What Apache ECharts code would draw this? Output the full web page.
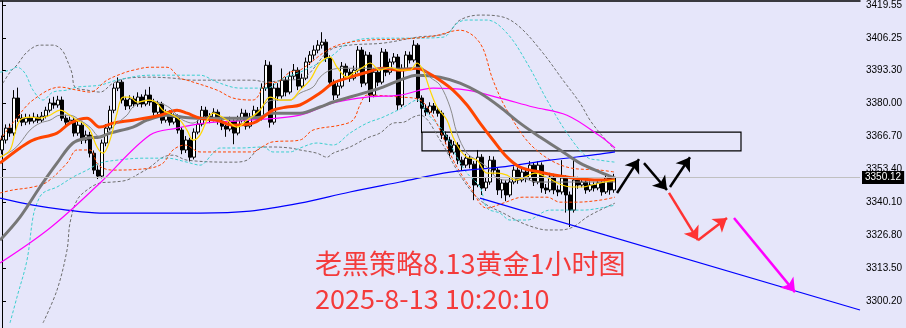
<!DOCTYPE html>
<html>
<head>
<meta charset="utf-8">
<script src="https://cdn.jsdelivr.net/npm/echarts@6/dist/echarts.min.js"></script>
<style>
html,body{margin:0;padding:0;background:#E6E6FA;}
#c{width:906px;height:328px;}
</style>
</head>
<body>
<div id="c"></div>
<script>
// ---------- DATA ----------
const tickLabels = [3419.55, 3406.25, 3393.30, 3380.00, 3366.70, 3353.40, 3340.10, 3326.80, 3313.50, 3300.20];
const lastPrice = 3350.12;
const titleLine1 = '老黑策略8.13黄金1小时图';
const titleLine2 = '2025-8-13 10:20:10';

const openArr = [3361.2,3365.2,3370.0,3368.0,3382.1,3374.0,3372.4,3374.0,3372.8,3374.4,
3373.2,3374.8,3377.2,3380.1,3379.3,3381.3,3374.0,3372.4,3373.2,3368.0,
3371.2,3365.2,3367.2,3359.9,3353.1,3350.7,3364.0,3370.0,3377.2,3386.1,
3388.5,3381.3,3378.9,3381.7,3379.7,3382.5,3379.7,3383.3,3380.5,3376.4,
3379.7,3373.2,3376.0,3372.4,3374.4,3369.2,3361.2,3365.2,3358.3,3368.4,
3371.6,3377.2,3374.8,3373.6,3376.4,3372.8,3370.8,3369.6,3372.8,3368.0,
3373.2,3376.0,3370.8,3374.4,3377.2,3374.0,3386.1,3395.3,3372.4,3386.1,
3382.9,3389.3,3384.5,3390.9,3393.3,3386.9,3390.1,3396.6,3399.4,3401.4,
3403.4,3404.6,3398.2,3388.5,3383.3,3386.9,3394.9,3392.5,3390.1,3393.3,
3401.4,3388.1,3399.4,3383.3,3392.5,3388.5,3400.6,3392.5,3396.6,3398.6,
3379.3,3394.1,3399.4,3397.4,3403.4,3382.1,3378.0,3376.4,3378.9,3377.2,
3376.0,3367.2,3365.2,3360.3,3363.2,3357.1,3355.1,3357.9,3355.5,3347.1,
3358.3,3345.9,3348.3,3357.1,3353.1,3345.1,3347.9,3343.1,3348.3,3353.1,
3349.1,3352.3,3349.9,3355.1,3348.3,3355.1,3345.9,3345.1,3350.3,3345.1,
3344.3,3349.9,3343.1,3337.0,3349.1,3347.1,3348.3,3345.1,3347.1,3345.9,
3347.9,3344.3,3349.9,3345.1];
const closeArr = [3365.2,3370.0,3368.0,3382.1,3374.0,3372.4,3374.0,3372.8,3374.4,3373.2,
3374.8,3377.2,3380.1,3379.3,3381.3,3374.0,3372.4,3373.2,3368.0,3371.2,
3365.2,3367.2,3359.9,3353.1,3350.7,3364.0,3370.0,3377.2,3386.1,3388.5,
3381.3,3378.9,3381.7,3379.7,3382.5,3379.7,3383.3,3380.5,3376.4,3379.7,
3373.2,3376.0,3372.4,3374.4,3369.2,3361.2,3365.2,3358.3,3368.4,3371.6,
3377.2,3374.8,3373.6,3376.4,3372.8,3370.8,3369.6,3372.8,3368.0,3373.2,
3376.0,3370.8,3374.4,3377.2,3374.0,3386.1,3395.3,3372.4,3386.1,3382.9,
3389.3,3384.5,3390.9,3393.3,3386.9,3390.1,3396.6,3399.4,3401.4,3403.4,
3404.6,3398.2,3388.5,3383.3,3386.9,3394.9,3392.5,3390.1,3393.3,3401.4,
3388.1,3399.4,3383.3,3392.5,3388.5,3400.6,3392.5,3396.6,3398.6,3379.3,
3394.1,3399.4,3397.4,3403.4,3382.1,3378.0,3376.4,3378.9,3377.2,3376.0,
3367.2,3365.2,3360.3,3363.2,3357.1,3355.1,3357.9,3355.5,3347.1,3358.3,
3345.9,3348.3,3357.1,3353.1,3345.1,3347.9,3343.1,3348.3,3353.1,3349.1,
3352.3,3349.9,3355.1,3348.3,3355.1,3345.9,3345.1,3350.3,3345.1,3344.3,
3349.9,3343.1,3337.0,3349.1,3347.1,3348.3,3345.1,3347.1,3345.9,3347.9,
3344.3,3349.9,3345.1,3350.12];
const lowArr = [3359.5,3363.8,3366.5,3366.9,3372.5,3370.8,3371.2,3371.5,3371.9,3372.0,
3372.1,3373.9,3376.3,3377.8,3378.2,3372.9,3371.0,3371.3,3366.6,3366.9,
3363.6,3363.9,3358.2,3351.5,3349.5,3349.8,3362.7,3369.1,3376.0,3384.9,
3379.9,3377.3,3377.6,3378.4,3378.6,3378.3,3378.8,3379.0,3375.0,3375.5,
3371.8,3372.2,3371.0,3371.5,3367.8,3359.5,3360.0,3356.6,3357.4,3367.5,
3370.7,3373.3,3372.0,3372.7,3371.4,3369.2,3366.5,3368.7,3363.5,3367.1,
3372.3,3369.4,3369.9,3373.5,3372.6,3373.1,3385.0,3370.2,3371.4,3381.1,
3381.9,3382.8,3383.6,3389.7,3385.3,3385.8,3389.3,3395.4,3397.6,3400.1,
3402.0,3396.6,3386.9,3381.3,3382.1,3386.0,3390.9,3388.6,3389.2,3392.4,
3386.5,3387.2,3380.5,3382.4,3386.9,3387.6,3390.9,3391.5,3395.6,3377.2,
3378.4,3393.3,3396.0,3396.5,3380.5,3368.0,3374.9,3375.5,3375.8,3374.6,
3365.6,3363.5,3358.6,3359.4,3355.5,3352.9,3354.0,3353.8,3341.0,3346.2,
3343.1,3344.7,3347.2,3351.4,3343.1,3341.8,3340.6,3342.2,3347.4,3347.6,
3348.2,3348.2,3349.0,3346.7,3347.4,3344.0,3343.5,3344.2,3343.4,3342.6,
3343.3,3336.0,3330.2,3336.0,3345.6,3346.2,3343.6,3344.3,3344.5,3345.0,
3342.8,3343.5,3343.2,3344.0];
const highArr = [3367.0,3371.5,3371.8,3385.3,3386.3,3375.6,3375.8,3375.5,3376.2,3375.6,
3376.5,3378.6,3381.9,3382.6,3383.0,3382.7,3375.4,3374.6,3374.3,3372.8,
3372.6,3369.0,3368.5,3361.0,3355.0,3365.4,3371.6,3379.0,3388.0,3390.4,
3389.5,3382.6,3383.2,3383.0,3384.4,3383.6,3385.5,3386.6,3381.8,3381.0,
3380.6,3377.5,3377.2,3375.9,3375.5,3370.3,3366.8,3366.1,3369.9,3373.2,
3378.9,3378.6,3376.0,3378.0,3377.5,3373.9,3372.0,3374.6,3373.9,3375.0,
3377.8,3377.4,3376.1,3379.0,3378.5,3388.0,3397.4,3396.8,3388.0,3388.1,
3394.0,3390.6,3392.8,3395.8,3394.5,3391.9,3398.4,3401.0,3403.3,3405.4,
3408.6,3405.8,3399.3,3389.6,3388.3,3396.6,3396.0,3393.8,3395.1,3403.0,
3402.6,3400.9,3400.6,3394.2,3393.7,3402.2,3401.8,3398.0,3400.2,3399.8,
3395.7,3401.0,3400.8,3405.4,3404.2,3383.2,3379.6,3380.4,3380.1,3378.5,
3377.1,3368.6,3366.5,3364.8,3364.3,3358.5,3359.6,3359.0,3356.7,3361.2,
3359.5,3350.0,3358.8,3358.6,3354.2,3349.5,3349.0,3350.2,3354.6,3354.2,
3353.9,3353.5,3356.7,3356.3,3356.6,3356.2,3347.5,3352.0,3351.6,3346.9,
3357.1,3351.0,3344.5,3358.3,3350.4,3349.8,3349.5,3348.6,3348.4,3349.3,
3349.0,3351.4,3351.0,3351.6];

// moving averages / bands: [bar index, price]
const maOrange = [[-0.5,3355.9],[4.5,3362.0],[7.75,3365.2],[13.75,3368.0],[17,3372.0],[21.25,3374.0],[24.5,3370.4],[27.75,3372.0],[32.75,3373.2],[39.5,3375.2],[43.75,3377.2],[46.25,3376.0],[49.5,3374.0],[53.75,3373.2],[57.75,3371.2],[62.75,3372.0],[65.25,3374.4],[67.75,3377.2],[71.25,3378.5],[74.5,3379.3],[79.5,3384.1],[82.75,3388.1],[87,3390.5],[91.25,3392.5],[95.25,3394.1],[99.5,3393.3],[103.75,3394.1],[106.25,3392.5],[109.5,3389.3],[112.75,3385.3],[116.25,3379.3],[119.5,3372.0],[122.75,3365.2],[126.25,3358.3],[129.5,3354.3],[134.5,3352.3],[141.25,3350.3],[149.5,3349.1],[153.25,3349.1]];
const maGreyThick = [[-0.5,3324.9],[4.5,3334.2],[9.5,3346.3],[13.75,3355.9],[17.75,3364.0],[21.25,3366.0],[24.5,3366.4],[27,3368.0],[32.75,3370.4],[36.25,3373.2],[41.25,3375.2],[45.25,3374.4],[49.5,3374.0],[57.75,3374.0],[64.5,3374.4],[67,3376.0],[74.5,3376.0],[79.5,3378.5],[82.75,3380.5],[87,3382.5],[91.25,3384.5],[95.25,3386.5],[99.5,3389.3],[103.75,3391.3],[109.5,3390.5],[114.5,3388.1],[119.5,3384.1],[124.5,3378.5],[129.5,3372.0],[134.5,3366.4],[139.5,3361.2],[144.5,3355.9],[149.5,3352.3],[153.25,3349.9]];
const maMagenta = [[-0.5,3315.7],[12,3329.8],[24.5,3347.9],[37,3367.2],[43.75,3370.0],[50.5,3372.0],[62,3373.2],[74.5,3375.2],[82.75,3380.1],[91.25,3382.5],[99.5,3383.3],[107.75,3386.1],[116.25,3385.3],[124.5,3382.1],[132.75,3378.5],[141.25,3375.2],[149.5,3366.8],[153.25,3362.0]];
const maBlue = [[-0.5,3341.8],[7.75,3339.0],[16.25,3337.0],[24.5,3335.8],[49.5,3335.8],[62,3336.6],[74.5,3339.8],[87,3344.3],[99.5,3348.3],[112,3352.3],[124.5,3354.3],[137,3357.1],[149.5,3359.5],[153.25,3360.4]];
const maGreyThin = [[-0.5,3358.3],[2.75,3361.2],[4.5,3364.0],[7,3369.2],[9.5,3372.0],[12,3373.2],[14.5,3375.2],[17,3375.2],[19.5,3373.2],[22,3370.4],[24.5,3366.4],[28.75,3372.0],[31.25,3375.2],[32.75,3378.5],[36.25,3381.3],[39.5,3380.1],[42,3378.1],[43.75,3375.2],[45.25,3373.2],[47.75,3372.0],[50.25,3374.0],[59.5,3373.2],[62.75,3374.4],[66.25,3380.5],[68.75,3381.3],[72,3381.3],[74.5,3384.1],[77.75,3386.5],[79.5,3390.5],[82,3393.3],[85.25,3394.1],[99.5,3394.1],[104.5,3394.5],[107,3390.5],[109.5,3387.3],[112,3378.5],[113.75,3368.0],[116.25,3359.9],[118.75,3357.1],[121.25,3354.3],[123.75,3349.9],[126.25,3349.1],[129.5,3349.9],[134,3348.3],[142.5,3348.3],[153.25,3348.3]];
const maYellow = [[-0.5,3358.3],[2,3361.2],[3.25,3368.0],[4.5,3373.2],[7,3374.4],[9.5,3374.0],[12,3375.2],[14.5,3377.2],[16.25,3376.0],[18.75,3373.2],[20.25,3372.0],[22,3369.2],[23.75,3362.4],[25.25,3359.9],[27,3365.2],[28.75,3376.0],[30.25,3382.5],[32,3382.5],[33.75,3380.5],[37,3381.3],[38.75,3380.1],[40.25,3377.2],[42.75,3375.2],[44.5,3373.2],[46.25,3369.2],[47.75,3365.2],[49.5,3367.2],[51.25,3373.2],[52.75,3376.0],[56.25,3373.2],[58.75,3370.4],[61.25,3373.2],[64.5,3377.2],[67,3382.5],[69.5,3381.3],[72,3381.3],[74.5,3385.3],[77,3389.3],[79.5,3396.2],[82,3398.6],[83.75,3394.5],[86.25,3390.5],[87.75,3392.1],[90.25,3394.5],[92,3396.2],[94.5,3393.3],[97,3394.5],[99.5,3393.3],[102,3393.3],[103.75,3396.2],[105.25,3393.3],[107,3385.3],[108.75,3378.5],[111.25,3373.2],[112.75,3366.4],[114.5,3361.2],[116.25,3358.3],[118.75,3357.1],[121.25,3351.9],[123.75,3351.9],[126.25,3351.1],[128.25,3349.1],[130.75,3350.3],[133.25,3351.9],[136.5,3349.9],[140,3347.1],[142.5,3346.3],[145,3346.3],[147.5,3347.1],[150.75,3348.3],[153.25,3349.1]];

const bbOrangeUp = [[-0.5,3365.2],[3.25,3373.2],[7.75,3381.3],[14.5,3386.5],[18.75,3385.3],[22,3384.5],[26.25,3389.3],[30.25,3392.1],[32.75,3393.3],[37,3394.5],[41.25,3394.5],[44.5,3390.1],[46.25,3389.3],[53.75,3385.3],[57.75,3382.1],[62.75,3381.3],[66.25,3388.1],[68.75,3388.5],[72,3392.5],[74.5,3393.3],[82.75,3402.6],[91.25,3405.4],[99.5,3405.8],[107.75,3407.0],[114.5,3409.4],[119.5,3404.2],[122.75,3389.3],[126.25,3377.2],[132.75,3362.4],[141.25,3354.3],[149.5,3353.1],[153.25,3352.3]];
const bbOrangeLo = [[-0.5,3343.9],[2.75,3345.1],[7.75,3346.3],[11.25,3348.3],[16.25,3355.9],[18.75,3361.2],[22,3361.2],[23.75,3355.9],[25.25,3353.9],[27.75,3353.1],[37,3353.9],[40.25,3355.9],[42.75,3361.2],[45.75,3363.2],[49.5,3360.4],[62.75,3360.4],[65,3362.4],[67.5,3364.4],[74.5,3365.2],[77.75,3369.2],[84.5,3371.2],[87.75,3373.2],[89.5,3379.3],[91.25,3383.3],[99.5,3382.5],[104.5,3381.3],[108.25,3373.2],[112,3359.9],[113.75,3354.3],[117,3346.3],[121.25,3337.8],[125.25,3339.8],[130.25,3342.2],[136.25,3342.2],[139.5,3340.2],[143.75,3340.2],[149.5,3341.0],[153.25,3342.2]];
const bbCyanUp = [[-0.5,3392.5],[2,3393.3],[3.75,3394.5],[5.75,3392.1],[7.75,3385.3],[10.25,3381.3],[12.75,3384.5],[16.25,3385.3],[18.75,3386.5],[24.5,3387.3],[28.75,3389.3],[37,3391.3],[49.5,3391.3],[53.75,3388.5],[59.5,3386.1],[66.25,3386.1],[70.25,3390.1],[74.5,3392.5],[82,3398.6],[87,3404.6],[93.75,3406.2],[102,3406.2],[110.25,3406.6],[113.75,3412.2],[116.25,3413.5],[121.25,3413.5],[126.25,3408.2],[131.25,3396.2],[136.25,3381.3],[141.25,3368.0],[146.25,3358.3],[149.5,3357.1],[153.25,3356.3]];
const bbCyanLo = [[2,3291.6],[3.75,3302.0],[6.25,3316.9],[7.75,3334.2],[8.75,3339.8],[10.25,3343.9],[13.75,3346.3],[17.75,3350.3],[21.25,3353.1],[24.5,3355.9],[28.75,3357.1],[35.25,3357.9],[41.25,3357.9],[46.25,3356.3],[49.5,3355.1],[52.75,3359.9],[54.5,3362.0],[59.5,3362.0],[65.25,3362.4],[67.75,3360.4],[72,3360.4],[74.5,3362.0],[78.75,3364.0],[82.75,3363.2],[87,3368.0],[91.25,3372.0],[95.25,3374.4],[100.5,3378.5],[103.75,3381.3],[106.25,3376.0],[109.5,3370.4],[111.25,3366.4],[113.75,3358.3],[116.25,3351.9],[119.5,3346.3],[121.25,3337.8],[124.5,3335.8],[127,3333.0],[131.25,3333.0],[137,3337.0],[145.25,3337.0],[149.5,3337.8],[153.25,3339.0]];
const bbGreyUp = [[0.25,3388.1],[2,3392.5],[3.75,3395.4],[6.25,3400.6],[9.5,3403.4],[12.75,3403.4],[15,3401.4],[16.25,3397.4],[17.5,3392.1],[18.25,3386.5],[21.25,3385.3],[24.5,3384.5],[27.75,3388.1],[31.25,3390.1],[37,3390.5],[42.75,3390.1],[47.75,3389.3],[62.75,3389.3],[66.25,3388.5],[70.25,3389.3],[74.5,3389.7],[82,3401.4],[87,3403.4],[95.25,3404.2],[103.75,3406.6],[111.25,3408.2],[114.5,3413.5],[119.5,3415.5],[125.25,3414.7],[129.5,3410.6],[135.25,3400.2],[140.25,3389.3],[144.5,3380.1],[147,3373.2],[149.5,3368.0],[153.25,3361.2]];
const bbGreyLo = [[10.25,3291.6],[13.75,3304.8],[16.25,3320.9],[17,3331.8],[18.75,3341.0],[21.25,3345.1],[24.5,3347.9],[27.75,3348.3],[31.25,3349.1],[34.5,3351.9],[37,3354.3],[40.25,3358.3],[42.75,3359.1],[46.25,3357.1],[57.75,3356.3],[61.25,3357.1],[63.75,3361.2],[65.25,3362.4],[67.75,3362.4],[72,3362.0],[74.5,3361.2],[78.75,3359.9],[81.25,3358.3],[82.75,3359.9],[87,3362.4],[91.25,3366.0],[94.5,3368.0],[97.75,3372.0],[100.5,3372.4],[102.75,3374.4],[104.5,3375.2],[109.5,3365.2],[114.5,3351.1],[119.5,3341.0],[126.25,3335.0],[129.5,3332.2],[132.75,3330.2],[136.25,3329.0],[139.5,3329.0],[142.75,3330.2],[146.25,3334.2],[149.5,3337.0],[153.25,3339.8]];

const trendLow = [[119.5,3341.8],[214.5,3296.8]];
const zoneRect = {x0:105, x1:184.75, top:3368.4, bottom:3360.8};
const blackArrows = [[[153.75,3343.9],[159.25,3357.5]], [[160.5,3355.9],[166.25,3345.1]], [[167,3346.3],[172,3358.3]]];
const redArrows = [[[166.75,3343.9],[174,3324.9]], [[174,3324.9],[181.25,3333.8]]];
const magentaArrows = [[[183,3333.8],[198.25,3304.0]]];

const slotCount = 215;
const categories = Array.from({length: slotCount}, (_, i) => 'H' + i);

// ---------- CHART ----------
const ohlc = openArr.map((o, i) => [o, closeArr[i], lowArr[i], highArr[i]]);
const chart = echarts.init(document.getElementById('c'));

function ln(name, data, color, width, dashed) {
  return {
    type: 'line', name, xAxisIndex: 1, yAxisIndex: 0, data,
    symbol: 'none', showSymbol: false, smooth: 0.35, silent: true, animation: false,
    lineStyle: {color, width, type: dashed ? [3, 2] : 'solid'}
  };
}
function arrowLines(list, color, width) {
  return list.map(a => [{coord: a[0], lineStyle: {color, width, type: 'solid'}, itemStyle: {color}}, {coord: a[1]}]);
}

const option = {
  backgroundColor: '#E6E6FA',
  animation: false,
  grid: {left: 0, right: 46, top: 1, bottom: 0},
  xAxis: [
    {type: 'category', data: categories, show: false, boundaryGap: true},
    {type: 'value', min: -0.5, max: slotCount - 0.5, position: 'top',
     axisLine: {show: true, onZero: false, lineStyle: {color: '#000', width: 1.5}},
     axisTick: {show: false}, axisLabel: {show: false}, splitLine: {show: false}}
  ],
  yAxis: {
    type: 'value', position: 'right', min: 3289.55, max: 3421.1, scale: true,
    axisLine: {show: true, lineStyle: {color: '#000', width: 1}},
    axisTick: {show: true, length: 4, customValues: tickLabels, lineStyle: {color: '#000'}},
    axisLabel: {customValues: tickLabels, formatter: v => v.toFixed(2), color: '#000',
                fontSize: 10, fontFamily: 'Liberation Sans', margin: 6},
    splitLine: {show: false}
  },
  series: [
    ln('bbGreyUp', bbGreyUp, '#6E6E6E', 1, true),
    ln('bbGreyLo', bbGreyLo, '#6E6E6E', 1, true),
    ln('bbCyanUp', bbCyanUp, '#3CCFCF', 1, true),
    ln('bbCyanLo', bbCyanLo, '#3CCFCF', 1, true),
    ln('bbOrangeUp', bbOrangeUp, '#FF4500', 1, true),
    ln('bbOrangeLo', bbOrangeLo, '#FF4500', 1, true),
    ln('maBlue', maBlue, '#0000FF', 1.2, false),
    ln('maMagenta', maMagenta, '#FF00FF', 1.2, false),
    {
      type: 'candlestick', xAxisIndex: 0, yAxisIndex: 0, data: ohlc, barWidth: 3,
      animation: false, silent: true,
      itemStyle: {color: '#FFFFFF', color0: '#000000', borderColor: '#000000', borderColor0: '#000000', borderWidth: 1},
      markLine: {
        symbol: ['none', 'none'], silent: true, animation: false,
        lineStyle: {color: '#C0C0C0', width: 1, type: 'solid'},
        label: {show: true, position: 'end', formatter: lastPrice.toFixed(2), color: '#fff',
                backgroundColor: '#000', padding: [2, 3, 1, 3], fontSize: 10,
                fontFamily: 'Liberation Sans', distance: 2},
        data: [{yAxis: lastPrice}]
      }
    },
    ln('maGreyThick', maGreyThick, '#777777', 3, false),
    ln('maOrange', maOrange, '#FF4500', 3, false),
    ln('maGreyThin', maGreyThin, '#8A8A8A', 1, false),
    ln('maYellow', maYellow, '#FFD700', 1.2, false),
    {
      type: 'line', name: 'trend', xAxisIndex: 1, yAxisIndex: 0, data: trendLow,
      symbol: 'none', silent: true, animation: false,
      lineStyle: {color: '#0000FF', width: 1.2},
      markArea: {
        silent: true,
        itemStyle: {color: 'rgba(0,0,0,0)', borderColor: '#000', borderWidth: 1.2},
        data: [[{coord: [zoneRect.x0, zoneRect.top]}, {coord: [zoneRect.x1, zoneRect.bottom]}]]
      },
      markLine: {
        silent: true, animation: false, symbol: ['none', 'arrow'], symbolSize: 13,
        label: {show: false},
        lineStyle: {type: 'solid'},
        data: [].concat(arrowLines(blackArrows, '#000000', 2.5),
                        arrowLines(redArrows, '#FF3333', 2.5),
                        arrowLines(magentaArrows, '#FF00FF', 2.5))
      }
    }
  ],
  graphic: [
    {type: 'text', left: 315, top: 250, silent: true,
     style: {text: titleLine1, fill: '#F43B3B', font: '27px "Noto Sans CJK SC"'}},
    {type: 'text', left: 315, top: 285, silent: true,
     style: {text: titleLine2, fill: '#F43B3B', font: '27px "Noto Sans CJK SC"'}}
  ]
};
chart.setOption(option);
</script>
</body>
</html>
